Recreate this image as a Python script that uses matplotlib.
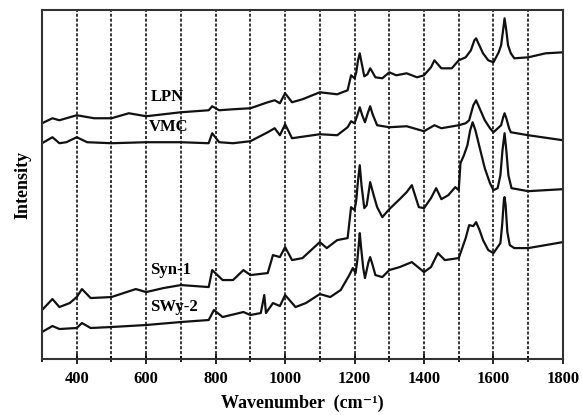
import numpy as np
import matplotlib.pyplot as plt
from matplotlib.ticker import MultipleLocator

plt.rcParams['font.family'] = ['Liberation Serif', 'DejaVu Serif']
plt.rcParams['font.weight'] = 'bold'

# values (intensity in arbitrary units)
lpn_wn = [300, 330, 350, 400, 450, 500, 550, 600, 700, 780, 790, 810, 850, 900, 950, 970, 985,
          1000, 1020, 1050, 1100, 1150, 1180, 1190, 1200, 1205, 1210, 1215, 1220, 1228, 1237,
          1245, 1252, 1260, 1280, 1300, 1320, 1350, 1380, 1400, 1420, 1430, 1440, 1450, 1480,
          1500, 1520, 1535, 1545, 1550, 1558, 1570, 1585, 1600, 1615, 1622, 1627, 1632, 1637,
          1642, 1650, 1660, 1700, 1750, 1800]
lpn_y = [236, 241, 239, 244, 241, 241, 246, 243, 247, 249, 253, 249, 250, 251, 257, 259, 256,
         266, 257, 260, 267, 265, 269, 284, 281, 287, 299, 306, 297, 283, 285,
         291, 287, 282, 281, 287, 284, 286, 282, 284, 292, 299, 295, 291, 291,
         299, 302, 309, 319, 321, 315, 306, 299, 297, 307, 314, 327, 341, 329,
         314, 306, 301, 302, 306, 307]

vmc_wn = [300, 330, 350, 370, 400, 430, 500, 600, 700, 780, 790, 810, 850, 900, 950, 970, 985,
          1000, 1020, 1100, 1150, 1180, 1190, 1200, 1208, 1215, 1222, 1230, 1238, 1245, 1252,
          1265, 1300, 1350, 1400, 1430, 1450, 1500, 1520, 1530, 1542, 1550, 1560, 1575, 1590,
          1600, 1622, 1628, 1632, 1637, 1645, 1650, 1700, 1800]
vmc_y = [216, 222, 216, 217, 222, 217, 216, 217, 217, 216, 226, 217, 216, 218, 227, 231, 224,
         235, 221, 225, 224, 232, 238, 236, 244, 252, 244, 237, 246, 253, 245,
         234, 232, 233, 228, 234, 231, 234, 236, 239, 254, 259, 251, 239, 231,
         227, 234, 242, 246, 241, 231, 227, 224, 219]

syn_wn = [300, 330, 350, 380, 400, 415, 440, 500, 570, 600, 650, 700, 780, 790, 820, 850, 880,
          900, 950, 965, 985, 1000, 1020, 1050, 1100, 1120, 1150, 1180, 1190, 1200, 1205, 1210,
          1215, 1220, 1228, 1235, 1245, 1255, 1265, 1280, 1300, 1330, 1350, 1365, 1385, 1400,
          1420, 1435, 1450, 1470, 1490, 1500, 1505, 1515, 1525, 1533, 1540, 1548, 1560, 1575,
          1590, 1600, 1612, 1620, 1626, 1632, 1637, 1643, 1652, 1700, 1750, 1800]
syn_y = [49, 60, 52, 56, 62, 70, 61, 62, 70, 67, 71, 74, 72, 89, 79, 79, 89,
         84, 86, 104, 102, 112, 99, 101, 117, 111, 119, 121, 152, 149, 159, 179,
         194, 174, 151, 154, 177, 164, 152, 142, 150, 160, 167, 174, 152, 151,
         161, 171, 160, 164, 172, 169, 196, 204, 214, 229, 237, 229, 212, 191,
         176, 169, 171, 184, 209, 226, 209, 184, 171, 168, 169, 170]

swy_wn = [300, 330, 350, 400, 415, 440, 500, 600, 700, 780, 795, 820, 880, 900, 930, 940, 945,
          965, 985, 1000, 1030, 1060, 1100, 1130, 1160, 1185, 1195, 1203, 1208, 1212, 1215,
          1219, 1225, 1230, 1240, 1245, 1252, 1260, 1280, 1300, 1330, 1365, 1400, 1420, 1440,
          1460, 1500, 1510, 1520, 1530, 1542, 1550, 1560, 1570, 1585, 1600, 1620, 1625, 1630,
          1632, 1635, 1640, 1647, 1660, 1700, 1750, 1800]
swy_y = [27, 33, 30, 31, 36, 31, 32, 34, 37, 39, 49, 42, 47, 44, 46, 64, 46,
         56, 53, 64, 52, 56, 65, 62, 69, 84, 91, 86, 99, 114, 126,
         111, 91, 81, 97, 102, 94, 84, 82, 89, 92, 97, 87, 92, 106,
         99, 101, 111, 121, 134, 133, 137, 129, 119, 109, 106, 116, 134, 159,
         162, 154, 127, 114, 111, 111, 114, 117]

labels = ['LPN', 'VMC', 'Syn-1', 'SWy-2']
label_x = [612, 608, 612, 612]
label_y = [262, 232, 89, 52]

fig = plt.figure(figsize=(5.82, 4.15), dpi=100)
ax = fig.add_axes([0.0722, 0.135, 0.895, 0.84])

for wn, y in [(lpn_wn, lpn_y), (vmc_wn, vmc_y), (syn_wn, syn_y), (swy_wn, swy_y)]:
    ax.plot(wn, y, color='#111111', lw=1.6, solid_joinstyle='round')

for t, x, y in zip(labels, label_x, label_y):
    ax.text(x, y, t, fontsize=12, fontweight='bold', va='center', ha='left')

ax.set_xlim(300, 1800)
ax.set_ylim(0, 349)
ax.xaxis.set_minor_locator(MultipleLocator(100))
ax.set_xticks([400, 600, 800, 1000, 1200, 1400, 1600, 1800])
ax.set_yticks([])
ax.grid(axis='x', which='both', color='black', linestyle=(0, (2, 1.2)), lw=1.1)
ax.tick_params(axis='x', which='major', direction='inout', length=7, width=1.2, labelsize=12, pad=5)
ax.tick_params(axis='x', which='minor', direction='inout', length=5, width=1.2)
for lab in ax.get_xticklabels():
    lab.set_fontweight('bold')
for s in ax.spines.values():
    s.set_linewidth(1.5)
    s.set_color('#333333')

ax.set_xlabel('Wavenumber  (cm\u207b\u00b9)', fontsize=13, fontweight='bold', labelpad=6)
ax.set_ylabel('Intensity', fontsize=13, fontweight='bold', labelpad=8)

fig.savefig('out.png', dpi=100)
